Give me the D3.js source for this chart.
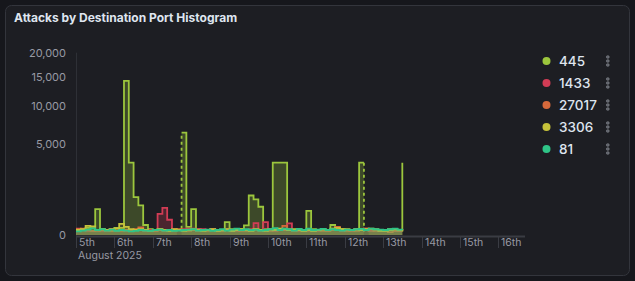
<!DOCTYPE html>
<meta charset="utf-8">
<style>
body { margin: 0; background: #16171c; }
svg { display: block; font-family: Inter, "Noto Sans", sans-serif; }
.title { fill: #dfe5ef; font-weight: 700; font-size: 12px; }
.tick-y { fill: #989aa3; font-size: 11px; }
.tick-x { fill: #989aa3; font-size: 10.5px; }
.legend-label { fill: #dfe5ef; font-size: 13.5px; font-weight: 500; }
</style>
<svg id="chart" width="635" height="281"></svg>
<script src="https://cdnjs.cloudflare.com/ajax/libs/d3/7.8.5/d3.min.js"></script>
<script>
// 3 hour buckets starting Aug 5 2025, 00:00 (null = missing bucket)
var bucketHours = 3;
var ports = ["445", "1433", "27017", "3306", "81"];
var colors = ["#9cc63d", "#d23c55", "#d6693b", "#c6c23a", "#2fc487"];

var port445 = [
  15, 15, 30, 40, 400, 20, 15, 10,
  30, 30, 14300, 3150, 860, 530, 60, 20,
  15, 20, 15, 10, 15, null, 6300, 40,
  400, 20, 15, 15, 20, 15, 10, 100,
  20, 15, 20, 55, 940, 765, 480, 20,
  15, 3150, 3150, 3150, 20, 15, 20, 15,
  350, 20, 15, 20, 15, 60, 25, 20,
  15, 10, 15, 3150, null, 10, 15, 10,
  15, 20, 15, 10, 3150
];
var port1433 = [
  25, 20, 10, 10, 15, 10, 15, 20,
  10, 15, 10, 10, 15, 20, 10, 15,
  10, 270, 440, 140, 20, 15, 20, 25,
  25, 20, 20, 15, 20, 10, 15, 20,
  15, 10, 15, 15, 20, 85, 15, 100,
  15, 10, 20, 15, 80, 15, 10, 15,
  10, 15, 10, 15, 10, 15, 20, 10,
  15, 10, 20, 15, 25, 10, 15, 10,
  10, 15, 10, 15, 10
];
var port27017 = [
  20, 25, 15, 10, 10, 15, 10, 10,
  10, 10, 15, 10, 20, 35, 12, 10,
  10, 15, 10, 15, 10, 20, 15, 10,
  15, 10, 15, 10, 15, 10, 10, 15,
  10, 15, 10, 10, 15, 20, 10, 15,
  10, 15, 20, 50, 15, 10, 15, 10,
  15, 10, 15, 10, 10, 15, 40, 15,
  10, 15, 10, 15, 25, 20, 10, 15,
  10, 5, 10, 10, 10
];
var port3306 = [
  15, 20, 50, 45, 15, 20, 15, 20,
  25, 75, 40, 20, 15, 20, 15, 10,
  15, 20, 15, 10, 20, 15, 10, 15,
  20, 15, 10, 15, 20, 10, 15, 20,
  10, 15, 20, 15, 10, 20, 15, 10,
  20, 15, 25, 20, 15, 20, 15, 10,
  15, 10, 15, 20, 15, 25, 30, 20,
  20, 15, 20, 15, 20, 25, 20, 10,
  10, 15, 20, 15, 10
];
var port81 = [
  8, 12, 18, 27, 15, 20, 12, 18,
  10, 15, 12, 8, 10, 15, 12, 10,
  15, 18, 12, 15, 10, 12, 15, 18,
  20, 12, 15, 18, 10, 15, 20, 12,
  18, 25, 15, 20, 15, 18, 12, 15,
  20, 28, 15, 25, 20, 12, 22, 15,
  25, 15, 18, 22, 15, 20, 15, 12,
  18, 15, 20, 22, 15, 25, 20, 18,
  15, 20, 25, 18, 15
];
var yTicks = [0, 5000, 10000, 15000, 20000];
var seriesValues = [port445, port1433, port27017, port3306, port81];

var start = Date.UTC(2025, 7, 5);
function bucketTime(i) { return new Date(start + i * bucketHours * 3600e3); }

var svg = d3.select("#chart");

svg.append("rect")
    .attr("x", 5.5).attr("y", 5.5)
    .attr("width", 624).attr("height", 270)
    .attr("rx", 6)
    .attr("fill", "#1d1e23")
    .attr("stroke", "#33353c");

svg.append("text")
    .attr("class", "title")
    .attr("x", 14).attr("y", 22)
    .text("Attacks by Destination Port Histogram");

var x = d3.scaleUtc()
    .domain([new Date(start), new Date(Date.UTC(2025, 7, 16, 16, 42))])
    .range([76, 525]);
var y = d3.scaleSqrt()
    .domain([0, 20000])
    .range([235, 52.7]);

// y axis
svg.append("line")
    .attr("x1", 76.5).attr("x2", 76.5)
    .attr("y1", y(20000)).attr("y2", 236)
    .attr("stroke", "#2e3036");
svg.selectAll(".tick-y").data(yTicks).enter().append("text")
    .attr("class", "tick-y")
    .attr("x", 66)
    .attr("y", function(d) { return y(d); })
    .attr("dy", "0.35em")
    .attr("text-anchor", "end")
    .text(function(d) { return d3.format(",")(d); });

// series
var area = d3.area()
    .curve(d3.curveStepAfter)
    .x(function(d) { return x(d.t); })
    .y0(y(0))
    .y1(function(d) { return y(d.v); });
var line = d3.line()
    .curve(d3.curveStepAfter)
    .x(function(d) { return x(d.t); })
    .y(function(d) { return y(d.v); });

var plot = svg.append("g");

seriesValues.forEach(function(values, s) {
  // split into runs of defined buckets
  var runs = [], gaps = [], run = null;
  values.forEach(function(v, i) {
    if (v == null) {
      if (run) {
        run.push({ t: bucketTime(i), v: run[run.length - 1].v });
        runs.push(run);
        gaps.push({ from: i, fromV: values[i - 1] });
        run = null;
      }
    } else {
      if (!run) {
        run = [];
        if (gaps.length && gaps[gaps.length - 1].to == null) {
          gaps[gaps.length - 1].to = i;
          gaps[gaps.length - 1].toV = v;
        }
      }
      run.push({ t: bucketTime(i), v: v });
    }
  });
  if (run) runs.push(run);

  var g = plot.append("g");
  runs.forEach(function(r) {
    g.append("path")
        .attr("d", area(r))
        .attr("fill", colors[s])
        .attr("fill-opacity", 0.26);
  });
  runs.forEach(function(r) {
    g.append("path")
        .attr("d", line(r))
        .attr("fill", "none")
        .attr("stroke", colors[s])
        .attr("stroke-width", 1.8);
  });
  gaps.forEach(function(gp) {
    var lo = Math.min(gp.fromV, gp.toV);
    var p = d3.path();
    p.moveTo(x(bucketTime(gp.from)), y(gp.fromV));
    p.lineTo(x(bucketTime(gp.from)), y(lo));
    p.lineTo(x(bucketTime(gp.to)), y(lo));
    p.lineTo(x(bucketTime(gp.to)), y(gp.toV));
    g.append("path")
        .attr("d", p.toString())
        .attr("fill", "none")
        .attr("stroke", colors[s])
        .attr("stroke-width", 1.8)
        .attr("stroke-dasharray", "3,3");
  });
});

// x axis
var days = d3.utcDay.range(new Date(start), new Date(Date.UTC(2025, 7, 17)));
svg.append("line")
    .attr("x1", 76).attr("x2", 525)
    .attr("y1", 236.5).attr("y2", 236.5)
    .attr("stroke", "#3a3c43")
    .attr("stroke-width", 2);
var xt = svg.selectAll(".xt").data(days).enter().append("g")
    .attr("transform", function(d) { return "translate(" + Math.round(x(d)) + ",0)"; });
xt.append("line")
    .attr("x1", 0.5).attr("x2", 0.5)
    .attr("y1", 236).attr("y2", 248)
    .attr("stroke", "#3a3c43");
xt.append("text")
    .attr("class", "tick-x")
    .attr("x", 3).attr("y", 246)
    .text(function(d) { return d.getUTCDate() + "th"; });
svg.append("text")
    .attr("class", "tick-x")
    .attr("x", 78).attr("y", 259)
    .text("August 2025");

// legend
var legend = svg.selectAll(".legend").data(ports).enter().append("g")
    .attr("transform", function(d, i) { return "translate(0," + (61 + i * 22) + ")"; });
legend.append("circle")
    .attr("cx", 546.5).attr("cy", 0).attr("r", 4)
    .attr("fill", function(d, i) { return colors[i]; });
legend.append("text")
    .attr("class", "legend-label")
    .attr("x", 559).attr("y", 0).attr("dy", "0.36em")
    .text(function(d) { return d; });
[-4, 0, 4].forEach(function(off) {
  legend.append("rect")
      .attr("x", 606.5).attr("y", off - 1.2)
      .attr("width", 2.6).attr("height", 2.4)
      .attr("rx", 0.8)
      .attr("fill", "#5b5e66")
      .attr("stroke", "#8a8d96")
      .attr("stroke-width", 0.6);
});
</script>
